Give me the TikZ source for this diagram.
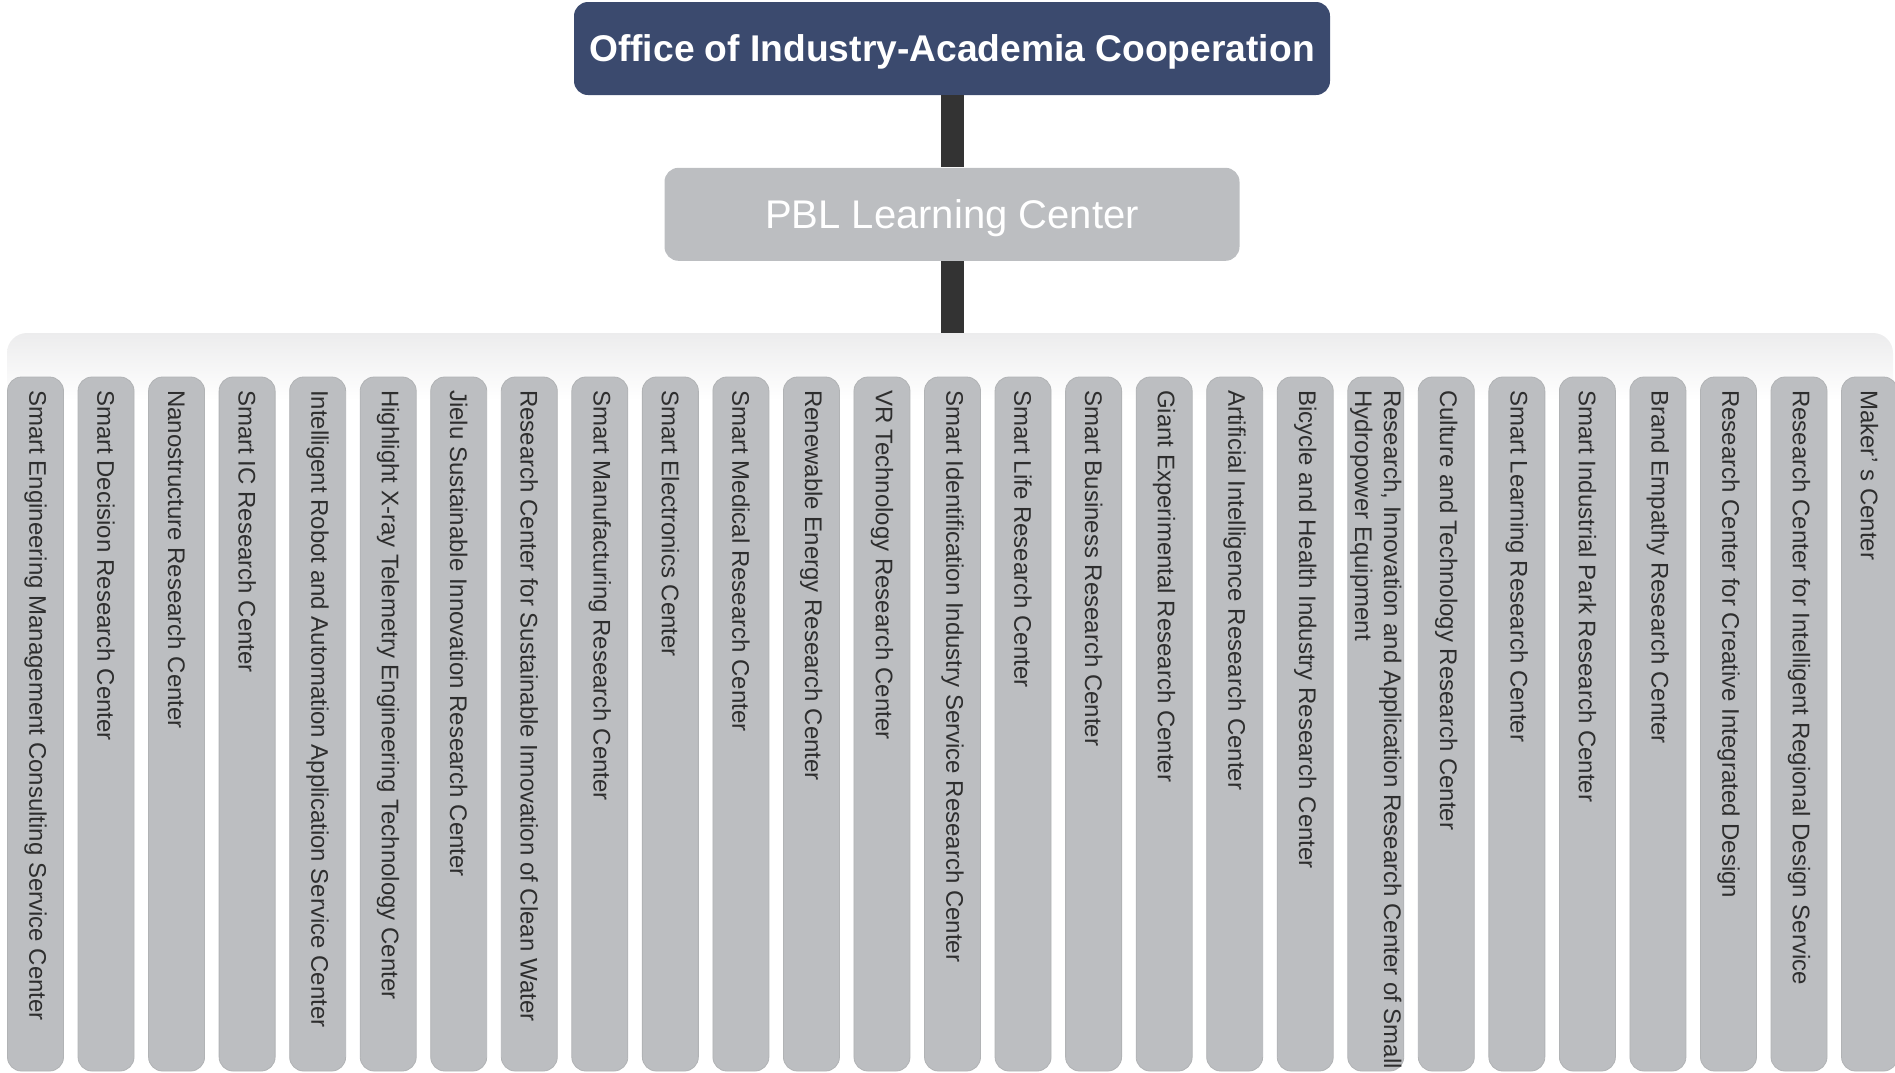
\documentclass[tikz,border=0pt]{standalone}
\usepackage{fontspec}
\setmainfont{Liberation Sans}
\definecolor{officeNavy}{RGB}{59,74,110}
\definecolor{centerGray}{RGB}{188,190,193}
\definecolor{barDark}{RGB}{51,51,51}
\definecolor{labelDark}{RGB}{46,46,46}
\definecolor{bandGray}{RGB}{236,236,237}
\usetikzlibrary{positioning}

\begin{document}
\begin{tikzpicture}[x=0.5pt, y=-0.5pt,
  head/.style={rounded corners=7pt, minimum width=378pt, minimum height=46.5pt,
               text=white, inner sep=0pt, text depth=0pt},
  column/.style={fill=centerGray, draw=centerGray!94!black, line width=0.4pt,
                 rounded corners=7pt, minimum width=28pt, minimum height=347pt, inner sep=0pt},
  colname/.style={rotate=-90, anchor=west, inner xsep=6.5pt, inner ysep=0pt, align=left,
                  text=labelDark, font=\fontsize{12}{14.5}\selectfont},
  link/.style={draw=barDark, line width=11.5pt}
]
  \useasboundingbox (0,0) rectangle (1895,1072);

  \node[head, fill=officeNavy, font=\bfseries\fontsize{18.6}{22}\selectfont] (office) at (952,48.5)
       {Office of Industry-Academia Cooperation};
  \node[head, fill=centerGray, minimum width=287.5pt, font=\fontsize{20}{24}\selectfont,
        below=36pt of office] (pbl) {PBL Learning Center};
  \node[top color=bandGray, bottom color=white, draw=none, rounded corners=10pt,
        minimum width=943pt, minimum height=33.5pt, inner sep=0pt] (band) at (950,366.5) {};

  % research centers
  \foreach \name [count=\k from 0] in {
      Smart Engineering Management Consulting Service Center,
      Smart Decision Research Center,
      Nanostructure Research Center,
      Smart IC Research Center,
      Intelligent Robot and Automation Application Service Center,
      Highlight X-ray Telemetry Engineering Technology Center,
      Jielu Sustainable Innovation Research Center,
      Research Center for Sustainable Innovation of Clean Water,
      Smart Manufacturing Research Center,
      Smart Electronics Center,
      Smart Medical Research Center,
      Renewable Energy Research Center,
      VR Technology Research Center,
      Smart Identification Industry Service Research Center,
      Smart Life Research Center,
      Smart Business Research Center,
      Giant Experimental Research Center,
      Artificial Intelligence Research Center,
      Bicycle and Health Industry Research Center,
      {Research, Innovation and Application Research Center of Small\\Hydropower Equipment},
      Culture and Technology Research Center,
      Smart Learning Research Center,
      Smart Industrial Park Research Center,
      Brand Empathy Research Center,
      Research Center for Creative Integrated Design,
      Research Center for Intelligent Regional Design Service,
      Maker’ s Center} {
    \node[column] (col\k) at (35.5+70.54*\k, 724) {};
    \node[colname] (name\k) at (col\k.north) {\name};
  }

  \draw[link] (office.south) -- (pbl.north);
  \draw[link] (pbl.south) -- (pbl.south |- band.north);
\end{tikzpicture}
\end{document}
